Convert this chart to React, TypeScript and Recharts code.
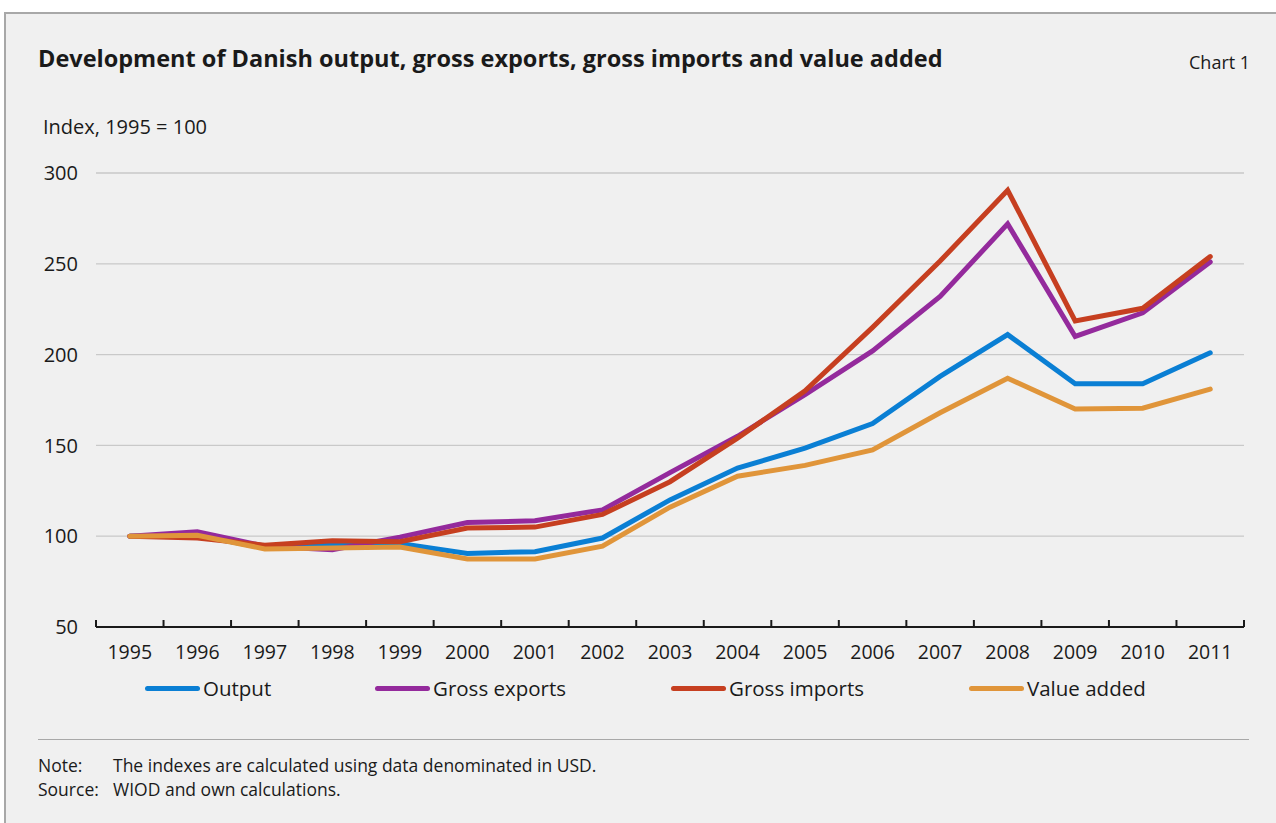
import { CartesianGrid, Line, LineChart, XAxis, YAxis } from "recharts";

const YEARS = [
  "1995", "1996", "1997", "1998", "1999", "2000", "2001", "2002", "2003",
  "2004", "2005", "2006", "2007", "2008", "2009", "2010", "2011",
];
const OUTPUT = [100, 100.5, 93.5, 95.5, 96, 90.5, 91.5, 99, 120, 137.5, 148.5, 162, 188, 211, 184, 184, 201];
const GROSS_EXPORTS = [100, 102.5, 94.5, 92.5, 99.5, 107.5, 108.5, 114.5, 135, 155, 178, 202, 232, 272, 210, 223, 251];
const GROSS_IMPORTS = [100, 99, 95, 97.5, 97, 104.5, 105, 112, 130, 154, 180, 215, 251.5, 290.5, 218.5, 225.5, 254];
const VALUE_ADDED = [100, 100.5, 93, 93.5, 94, 87.5, 87.5, 94.5, 116, 133, 139, 147.5, 168, 187, 170, 170.5, 181];
const Y_TICKS = [50, 100, 150, 200, 250, 300];

const SERIES = [
  { key: "output", name: "Output", values: OUTPUT, color: "#0a7fd4" },
  { key: "exports", name: "Gross exports", values: GROSS_EXPORTS, color: "#942a9c" },
  { key: "imports", name: "Gross imports", values: GROSS_IMPORTS, color: "#c63f20" },
  { key: "va", name: "Value added", values: VALUE_ADDED, color: "#e0953a" },
];

const data = YEARS.map((year, i) => {
  const row: Record<string, number | string> = { i, year };
  SERIES.forEach((s) => (row[s.key] = s.values[i]));
  return row;
});

// year labels at integer positions, small tick marks at category boundaries
const xTicks: number[] = [-0.5];
YEARS.forEach((_, i) => xTicks.push(i, i + 0.5));

const FONT = "'Open Sans', 'DejaVu Sans', sans-serif";
const TEXT = "#1a1a1a";
const legendLeft = [145, 375, 671, 969];

function XTick(props: any) {
  const { x, y, payload } = props;
  const v = payload.value as number;
  if (Number.isInteger(v)) {
    return (
      <text x={x} y={y + 32} textAnchor="middle" fontSize={19.5} fill={TEXT} fontFamily={FONT}>
        {YEARS[v]}
      </text>
    );
  }
  return <line x1={x} x2={x} y1={y - 7} y2={y} stroke={TEXT} strokeWidth={2} />;
}

export default function App() {
  return (
    <div
      style={{
        position: "absolute",
        top: 0,
        left: 0,
        width: 1276,
        height: 823,
        overflow: "hidden",
        background: "#fff",
        fontFamily: FONT,
        color: TEXT,
      }}
    >
      <div
        style={{
          position: "absolute",
          left: 4,
          top: 12,
          width: 1290,
          height: 830,
          background: "#f0f0f0",
          borderLeft: "2px solid #a8a8a8",
          borderTop: "2px solid #a8a8a8",
        }}
      />
      <div style={{ position: "absolute", left: 38, top: 42, fontSize: 23.5, fontWeight: 700, whiteSpace: "nowrap" }}>
        Development of Danish output, gross exports, gross imports and value added
      </div>
      <div style={{ position: "absolute", left: 1189, top: 50, fontSize: 18 }}>Chart 1</div>
      <div style={{ position: "absolute", left: 43, top: 113, fontSize: 20 }}>Index, 1995 = 100</div>

      <div style={{ position: "absolute", left: 0, top: 0 }}>
        <LineChart
          width={1276}
          height={680}
          data={data}
          margin={{ top: 173, right: 32, bottom: 0, left: 0 }}
        >
          <CartesianGrid vertical={false} stroke="#c9c9c9" strokeWidth={1.3} />
          <XAxis
            dataKey="i"
            type="number"
            domain={[-0.5, 16.5]}
            ticks={xTicks}
            interval={0}
            height={53}
            tickSize={0}
            tickMargin={0}
            tickLine={false}
            tick={<XTick />}
            axisLine={{ stroke: TEXT, strokeWidth: 2 }}
          />
          <YAxis
            domain={[50, 300]}
            ticks={Y_TICKS}
            width={96}
            axisLine={false}
            tickLine={false}
            tickSize={0}
            tickMargin={18}
            tick={{ fill: TEXT, fontSize: 20, fontFamily: FONT }}
          />
          {SERIES.map((s) => (
            <Line
              key={s.key}
              dataKey={s.key}
              name={s.name}
              stroke={s.color}
              strokeWidth={5}
              strokeLinecap="round"
              dot={false}
              activeDot={false}
              isAnimationActive={false}
            />
          ))}
        </LineChart>
      </div>

      {SERIES.map((s, i) => (
        <div
          key={s.key}
          style={{
            position: "absolute",
            left: legendLeft[i],
            top: 675,
            display: "flex",
            alignItems: "center",
            fontSize: 20.5,
            height: 26,
            whiteSpace: "nowrap",
          }}
        >
          <span
            style={{
              display: "inline-block",
              width: 55,
              height: 5,
              borderRadius: 3,
              background: s.color,
              marginRight: 3,
            }}
          />
          {s.name}
        </div>
      ))}

      <div
        style={{
          position: "absolute",
          left: 38,
          top: 739,
          width: 1211,
          height: 0,
          borderTop: "1.5px solid #a8a8a8",
        }}
      />
      <div style={{ position: "absolute", left: 38, top: 753, fontSize: 17.5, lineHeight: "24px", whiteSpace: "nowrap" }}>
        <div>
          <span style={{ display: "inline-block", width: 75 }}>Note:</span>
          The indexes are calculated using data denominated in USD.
        </div>
        <div>
          <span style={{ display: "inline-block", width: 75 }}>Source:</span>
          WIOD and own calculations.
        </div>
      </div>
    </div>
  );
}
